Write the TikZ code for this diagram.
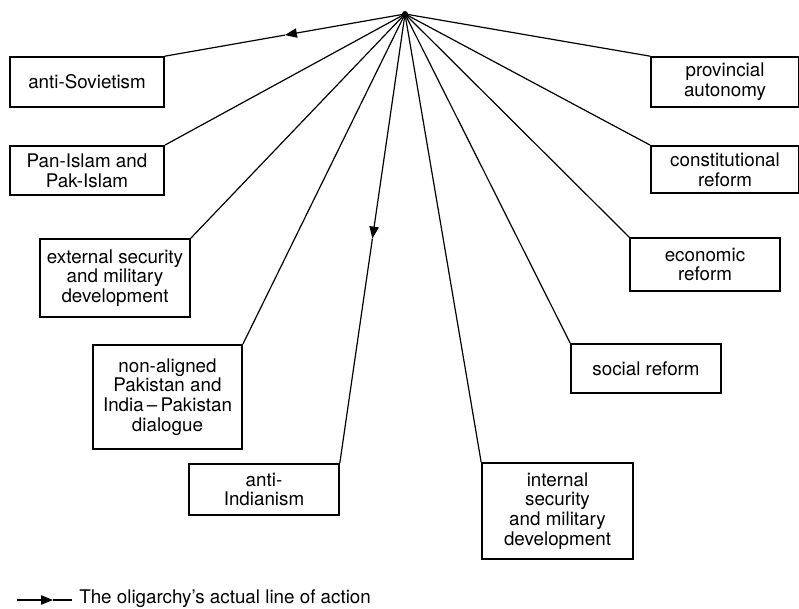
\documentclass[tikz,border=0pt]{standalone}
\usepackage{fontspec}
\setmainfont{TeX Gyre Heros}
\usetikzlibrary{calc}
\usetikzlibrary{arrows.meta}

\tikzset{
    box/.style = {draw, line width = 1.2pt, rectangle, align = center, inner sep = 0pt,
                  font = \fontsize{14.1}{14.8}\selectfont},
    spoke/.style = {line width = 0.9pt},
    tip/.style = {-{Triangle[length = 9pt, width = 7pt]}}
}

\begin{document}
\begin{tikzpicture}[x = 0.75pt, y = -0.75pt]
            \useasboundingbox (0, 0) rectangle (799, 609);

            \coordinate (hub) at (405, 14);
            \fill (hub) circle (3);

            % left side
            \node[box, minimum width = 115.5pt, minimum height = 37.5pt] (sov) at (87, 82) {anti-Sovietism};
            \node[box, minimum width = 115.5pt, minimum height = 36.8pt] (pan) at (87, 170.5) {Pan-Islam and\\Pak-Islam};
            \node[box, minimum width = 112.5pt, minimum height = 58.5pt] (ext) at (115, 278) {external security\\and military\\development};
            \node[box, minimum width = 111.8pt, minimum height = 78pt] (nal) at (167.5, 397) {non-aligned\\Pakistan and\\India\,--\,Pakistan\\dialogue};
            \node[box, minimum width = 112.5pt, minimum height = 38.3pt] (ind) at (264, 489.5) {anti-\\Indianism};

            % right side
            \node[box, minimum width = 111pt, minimum height = 37.5pt] (prov) at (725, 82) {provincial\\autonomy};
            \node[box, minimum width = 111pt, minimum height = 35.3pt] (cons) at (725, 169.5) {constitutional\\reform};
            \node[box, minimum width = 112.5pt, minimum height = 39.8pt] (econ) at (705, 264.5) {economic\\reform};
            \node[box, minimum width = 112.5pt, minimum height = 36.8pt] (soc) at (646, 368.5) {social reform};
            \node[box, minimum width = 113.3pt, minimum height = 72pt] (isec) at (557.5, 511) {internal\\security\\and military\\development};

            % the two lines that are followed
            \coordinate (m1) at ($(hub)!0.5!(sov.north east)$);
            \coordinate (m2) at ($(hub)!0.5!(ind.north east)$);
            \draw [spoke, tip] (hub) -- (m1);
            \draw [spoke] (m1) -- (sov.north east);
            \draw [spoke, tip] (hub) -- (m2);
            \draw [spoke] (m2) -- (ind.north east);

            \draw [spoke] (hub) -- (pan.north east);
            \draw [spoke] (hub) -- (ext.north east);
            \draw [spoke] (hub) -- (nal.north east);
            \draw [spoke] (hub) -- (prov.north west);
            \draw [spoke] (hub) -- (cons.north west);
            \draw [spoke] (hub) -- (econ.north west);
            \draw [spoke] (hub) -- (soc.north west);
            \draw [spoke] (hub) -- (isec.north west);

            % key
            \coordinate (ka) at (17, 600);
            \coordinate (kb) at (53, 600);
            \coordinate (kc) at (72, 600);
            \draw [spoke, tip] (ka) -- (kb);
            \draw [spoke] (kb) -- (kc);
            \node[anchor = west, inner sep = 0pt, font = \fontsize{14.1}{14.8}\selectfont] (key) at (79, 599) {The oligarchy’s actual line of action};
        \end{tikzpicture}
\end{document}
